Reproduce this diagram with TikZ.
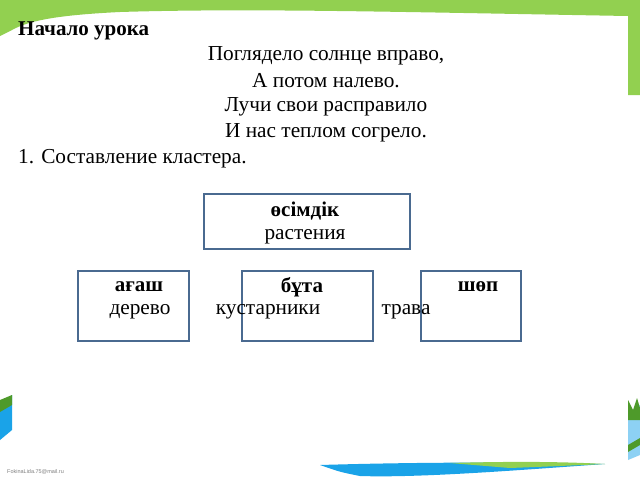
\documentclass[tikz,border=0pt]{standalone}
\usepackage{fontspec}
\setmainfont{Liberation Serif}
\newfontfamily\smallsans{Liberation Sans}
\begin{document}
\begin{tikzpicture}[x=1pt,y=-1pt,
  box/.style={draw=boxc,line width=1.2pt},
  txt/.style={font=\fontsize{21.3}{24}\selectfont,inner sep=0pt},
  btxt/.style={font=\fontsize{21}{24}\selectfont\bfseries,inner sep=0pt}]
\definecolor{boxc}{HTML}{4A6A90}
\definecolor{grn}{HTML}{92D050}
\definecolor{blu}{HTML}{1AA3E8}
\definecolor{dgrn}{HTML}{4E9A2A}
\useasboundingbox (0,0) rectangle (640,480);
\fill[white] (0,0) rectangle (640,480);
% top green band
\fill[grn] (0,0) -- (640,0) -- (640,95) -- (628,95) -- (628,16)
  .. controls (400,12) and (250,8) .. (120,12) .. controls (60,15) and (30,20) .. (12,30)
  -- (0,36) -- cycle;
% bottom decorations
\fill[blu] (320,465) .. controls (420,462) and (520,462) .. (605,464)
  .. controls (520,470) and (420,478) .. (360,476) .. controls (340,472) .. (320,465) -- cycle;
\fill[grn] (450,463) .. controls (520,461) and (570,462) .. (605,464) .. controls (560,466) .. (510,468) -- cycle;
\fill[blu] (0,405) -- (12,395) -- (12,430) -- (0,440) -- cycle;
\fill[dgrn] (0,400) -- (12,395) -- (12,405) -- (0,412) -- cycle;
\fill[blu!50] (628,415) -- (640,405) -- (640,455) -- (628,460) -- cycle;
\fill[dgrn] (628,400) -- (633,410) -- (637,398) -- (640,408) -- (640,420) -- (628,420) -- cycle;
\fill[dgrn] (628,445) -- (640,438) -- (640,445) -- (628,452) -- cycle;
% texts
\node[anchor=west,inner sep=0pt,font=\fontsize{21}{24}\selectfont\bfseries] (title) at (18,31) {Начало урока};
\node[txt] (p1) at (326,56) {Поглядело солнце вправо,};
\node[txt] (p2) at (326,81) {А потом налево.};
\node[txt] (p3) at (326,107) {Лучи свои расправило};
\node[txt] (p4) at (326,133) {И нас теплом согрело.};
\node[txt,anchor=west] (s1) at (18,159) {1. Составление кластера.};
% boxes
\draw[box] (204,194) rectangle (410,249);
\node[btxt] (t1) at (305,211) {өсімдік};
\node[txt] (t2) at (305,237) {растения};
\draw[box] (78,271) rectangle (189,341);
\draw[box] (242,271) rectangle (373,341);
\draw[box] (421,271) rectangle (521,341);
\node[btxt] (a1) at (139,287) {ағаш};
\node[btxt] (b1) at (302,287) {бұта};
\node[btxt] (c1) at (478,287) {шөп};
\node[txt] (a2) at (140,312) {дерево};
\node[txt] (b2) at (268,312) {кустарники};
\node[txt] (c2) at (406,312) {трава};
\node[anchor=west,inner sep=0pt,text=gray,font=\smallsans\fontsize{5.5}{6}\selectfont] (em) at (7,472) {FokinaLida.75@mail.ru};
\end{tikzpicture}
\end{document}
